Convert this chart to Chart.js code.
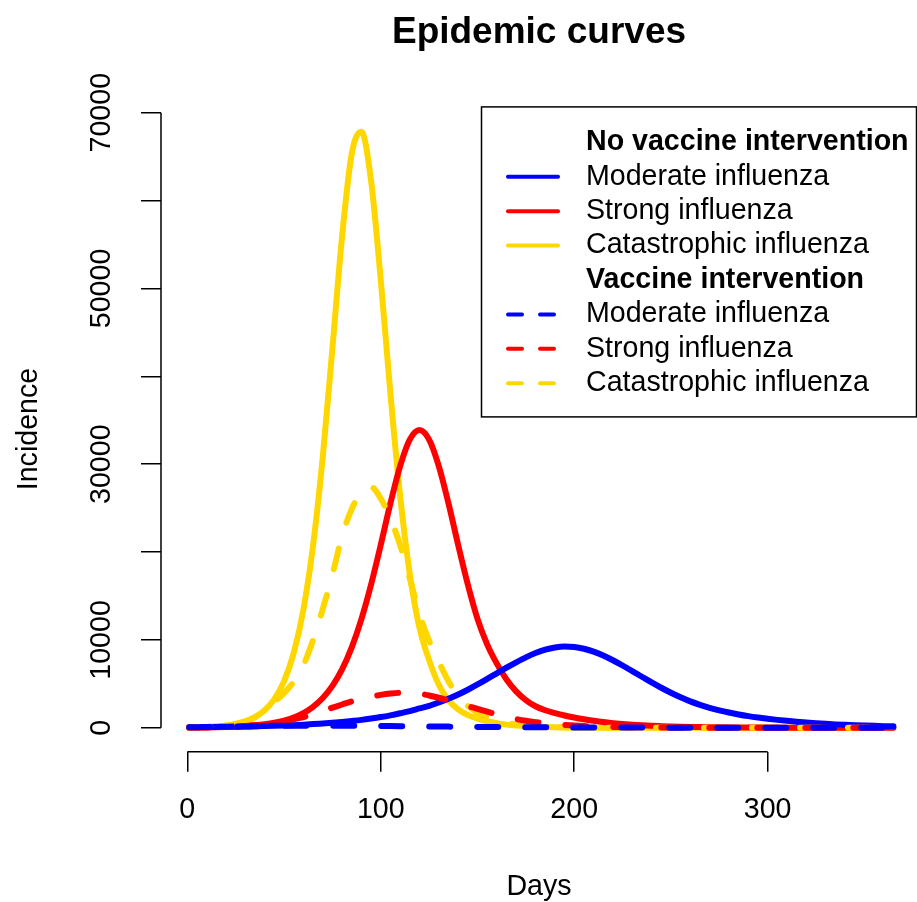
<!DOCTYPE html>
<html>
<head>
<meta charset="utf-8">
<title>Epidemic curves</title>
<script src="https://cdn.jsdelivr.net/npm/chart.js@4.4.1/dist/chart.umd.min.js"></script>
<style>
  body { margin: 0; background: #fff; }
  canvas { display: block; }
</style>
</head>
<body>
<canvas id="myChart" width="917" height="902"></canvas>
<script>
// days of the year (x values shared by every curve)
const days = [1, 5, 10, 15, 20, 25, 30, 35, 40, 45,
  50, 55, 60, 65, 70, 75, 80, 85, 90, 95,
  100, 105, 110, 115, 120, 125, 130, 135, 140, 145,
  150, 155, 160, 165, 170, 175, 180, 185, 190, 195,
  200, 205, 210, 215, 220, 225, 230, 235, 240, 245,
  250, 255, 260, 265, 270, 275, 280, 285, 290, 295,
  300, 305, 310, 315, 320, 325, 330, 335, 340, 345,
  350, 355, 360, 365];

// No vaccine intervention
const moderateNoVac = [60, 70, 85, 100, 115, 130, 150, 170, 195, 225,
  260, 300, 350, 420, 500, 580, 670, 780, 900, 1050,
  1220, 1420, 1650, 1900, 2200, 2500, 2880, 3300, 3780, 4330,
  4930, 5560, 6200, 6840, 7450, 8020, 8510, 8890, 9140, 9250,
  9200, 9000, 8670, 8230, 7690, 7090, 6450, 5810, 5170, 4560,
  3990, 3470, 3010, 2620, 2280, 1990, 1740, 1520, 1330, 1170,
  1030, 900, 790, 690, 600, 520, 450, 390, 340, 295,
  255, 220, 190, 165];
const strongNoVac = [20, 32, 45, 65, 94, 135, 194, 279, 401, 575,
  825, 1180, 1684, 2395, 3393, 4773, 6644, 9147, 12363, 16306,
  20822, 25547, 29781, 32802, 33900, 32802, 29781, 25547, 20822, 16306,
  12400, 9500, 7300, 5500, 4150, 3150, 2450, 2000, 1680, 1400,
  1170, 970, 800, 650, 530, 430, 350, 285, 230, 190,
  155, 125, 100, 82, 67, 54, 44, 36, 29, 24,
  19, 16, 13, 10, 8, 7, 6, 5, 4, 3,
  3, 2, 2, 1];
const catastrophicNoVac = [30, 61, 101, 167, 274, 452, 741, 1219, 1994, 3258,
  5289, 8500, 13444, 20730, 30775, 43160, 55894, 65346, 67830, 62232,
  50966, 38018, 26437, 17506, 11400, 7700, 4900, 3150, 2100, 1450,
  1050, 750, 520, 360, 250, 170, 115, 80, 55, 38,
  26, 18, 12, 8, 6, 4, 3, 2, 1, 1,
  1, 0, 0, 0, 0, 0, 0, 0, 0, 0,
  0, 0, 0, 0, 0, 0, 0, 0, 0, 0,
  0, 0, 0, 0];

// Vaccine intervention
const moderateVac = [60, 70, 85, 100, 115, 130, 150, 170, 195, 210,
  220, 230, 235, 240, 240, 240, 235, 230, 225, 215,
  205, 195, 185, 175, 165, 155, 145, 135, 125, 115,
  105, 98, 90, 83, 76, 70, 64, 58, 53, 48,
  44, 40, 36, 33, 30, 27, 25, 22, 20, 18,
  17, 15, 14, 13, 12, 11, 10, 9, 8, 7,
  7, 6, 6, 5, 5, 4, 4, 4, 3, 3,
  3, 2, 2, 2];
const strongVac = [20, 32, 45, 65, 94, 135, 194, 279, 401, 560,
  760, 980, 1220, 1520, 1900, 2300, 2650, 3000, 3300, 3550,
  3750, 3900, 3980, 3980, 3880, 3680, 3420, 3120, 2800, 2480,
  2150, 1830, 1530, 1250, 1000, 800, 640, 510, 400, 320,
  250, 200, 160, 125, 100, 80, 64, 50, 40, 32,
  25, 20, 16, 13, 10, 8, 6, 5, 4, 3,
  3, 2, 2, 2, 1, 1, 1, 1, 1, 1,
  1, 1, 1, 1];
const catastrophicVac = [30, 61, 101, 167, 274, 452, 741, 1219, 1950, 2950,
  3950, 5250, 7100, 10000, 13500, 17400, 21800, 24900, 26800, 27400,
  26100, 23800, 20800, 17000, 13000, 9900, 7500, 5300, 3600, 2500,
  1700, 1200, 850, 580, 400, 270, 180, 120, 80, 55,
  37, 25, 17, 11, 8, 5, 4, 3, 2, 1,
  1, 0, 0, 0, 0, 0, 0, 0, 0, 0,
  0, 0, 0, 0, 0, 0, 0, 0, 0, 0,
  0, 0, 0, 0];

const xTicks = [0, 100, 200, 300];
const yTicks = [0, 10000, 20000, 30000, 40000, 50000, 60000, 70000];
const yLabels = [0, 10000, 30000, 50000, 70000];

const groupTitles = ["No vaccine intervention", "Vaccine intervention"];
const fluNames = ["Moderate influenza", "Strong influenza", "Catastrophic influenza"];
const fluColors = ["#0000FF", "#FF0000", "#FFD700"];

const FONT = "'Liberation Sans', Arial, Helvetica, sans-serif";
const FONT_SIZE = 28.6;

function points(values) {
  return days.map((d, i) => ({ x: d, y: values[i] }));
}

function makeLine(label, values, color, dashed, order) {
  return {
    label: label,
    data: points(values),
    borderColor: color,
    backgroundColor: color,
    borderWidth: 6,
    borderDash: dashed ? [21, 27] : [],
    borderCapStyle: "round",
    borderJoinStyle: "round",
    pointRadius: 0,
    cubicInterpolationMode: "monotone",
    fill: false,
    order: order,
  };
}

// axis lines (only between first and last tick, like base R) + rotated y labels
const rAxes = {
  id: "rAxes",
  afterDraw(chart) {
    const { ctx, scales: { x, y } } = chart;
    ctx.save();
    ctx.strokeStyle = "#000";
    ctx.lineWidth = 1.5;
    ctx.beginPath();
    ctx.moveTo(x.getPixelForValue(xTicks[0]), x.top);
    ctx.lineTo(x.getPixelForValue(xTicks[xTicks.length - 1]), x.top);
    ctx.moveTo(y.right, y.getPixelForValue(yTicks[0]));
    ctx.lineTo(y.right, y.getPixelForValue(yTicks[yTicks.length - 1]));
    ctx.stroke();

    ctx.fillStyle = "#000";
    ctx.font = FONT_SIZE + "px " + FONT;
    ctx.textAlign = "center";
    ctx.textBaseline = "middle";
    yLabels.forEach((v) => {
      ctx.save();
      ctx.translate(y.right - 59, y.getPixelForValue(v));
      ctx.rotate(-Math.PI / 2);
      ctx.fillText(String(v), 0, 0);
      ctx.restore();
    });
    ctx.restore();
  },
};

// boxed legend with two group headers
const boxLegend = {
  id: "boxLegend",
  afterDraw(chart) {
    const { ctx, chartArea } = chart;
    const sets = chart.data.datasets;
    const boxW = 436;
    const boxH = 310;
    const left = chartArea.right - boxW + 0.5;
    const top = chartArea.top + 0.5;

    ctx.save();
    ctx.fillStyle = "#fff";
    ctx.fillRect(left, top, boxW - 1, boxH);
    ctx.strokeStyle = "#000";
    ctx.lineWidth = 1.5;
    ctx.strokeRect(left, top, boxW - 1, boxH);

    ctx.textAlign = "left";
    ctx.textBaseline = "middle";
    ctx.lineCap = "round";
    let row = 0;
    groupTitles.forEach((g, gi) => {
      const gy = top + 35.5 + 34.4 * row;
      ctx.fillStyle = "#000";
      ctx.font = "bold " + FONT_SIZE + "px " + FONT;
      ctx.fillText(g, left + 104.5, gy);
      row++;
      fluNames.forEach((name, ni) => {
        const ds = sets[gi * 3 + ni];
        const ry = top + 35.5 + 34.4 * row;
        ctx.strokeStyle = ds.borderColor;
        ctx.lineWidth = 4;
        ctx.setLineDash(ds.borderDash.length ? [14, 18] : []);
        ctx.beginPath();
        ctx.moveTo(left + 26.5, ry);
        ctx.lineTo(left + 76.5, ry);
        ctx.stroke();
        ctx.setLineDash([]);
        ctx.fillStyle = "#000";
        ctx.font = FONT_SIZE + "px " + FONT;
        ctx.fillText(name, left + 104.5, ry);
        row++;
      });
    });
    ctx.restore();
  },
};

const ctx = document.getElementById("myChart").getContext("2d");

const myChart = new Chart(ctx, {
  type: "line",
  data: {
    datasets: [
      makeLine(fluNames[0], moderateNoVac, fluColors[0], false, 4),
      makeLine(fluNames[1], strongNoVac, fluColors[1], false, 5),
      makeLine(fluNames[2], catastrophicNoVac, fluColors[2], false, 6),
      makeLine(fluNames[0], moderateVac, fluColors[0], true, 1),
      makeLine(fluNames[1], strongVac, fluColors[1], true, 2),
      makeLine(fluNames[2], catastrophicVac, fluColors[2], true, 3),
    ],
  },
  options: {
    responsive: false,
    devicePixelRatio: 1,
    animation: false,
    layout: { padding: 0 },
    plugins: {
      legend: { display: false },
      tooltip: { enabled: false },
      title: {
        display: true,
        text: "Epidemic curves",
        color: "#000",
        fullSize: false,
        font: { family: FONT, size: 37, weight: "bold", lineHeight: 1.2 },
        padding: { top: 11, bottom: 51 },
      },
    },
    scales: {
      x: {
        type: "linear",
        min: -13.6,
        max: 377.2,
        afterBuildTicks: (s) => { s.ticks = xTicks.map((v) => ({ value: v })); },
        afterFit: (s) => { s.height = 150.3; },
        grid: { drawOnChartArea: false, drawTicks: true, tickLength: 20, color: "#000", lineWidth: 1.5 },
        border: { display: false },
        ticks: {
          color: "#000",
          font: { family: FONT, size: FONT_SIZE },
          padding: 21,
          maxRotation: 0,
          autoSkip: false,
        },
        title: {
          display: true,
          text: "Days",
          color: "#000",
          font: { family: FONT, size: FONT_SIZE, lineHeight: 1 },
          padding: { top: 0, bottom: 1 },
        },
      },
      y: {
        type: "linear",
        min: -2720,
        max: 70720,
        afterBuildTicks: (s) => { s.ticks = yTicks.map((v) => ({ value: v })); },
        afterFit: (s) => { s.width = 161; },
        grid: { drawOnChartArea: false, drawTicks: true, tickLength: 20, color: "#000", lineWidth: 1.5 },
        border: { display: false },
        ticks: { display: false },
        title: {
          display: true,
          text: "Incidence",
          color: "#000",
          font: { family: FONT, size: FONT_SIZE, lineHeight: 1 },
          padding: { top: 15, bottom: 0 },
        },
      },
    },
  },
  plugins: [rAxes, boxLegend],
});
</script>
</body>
</html>
